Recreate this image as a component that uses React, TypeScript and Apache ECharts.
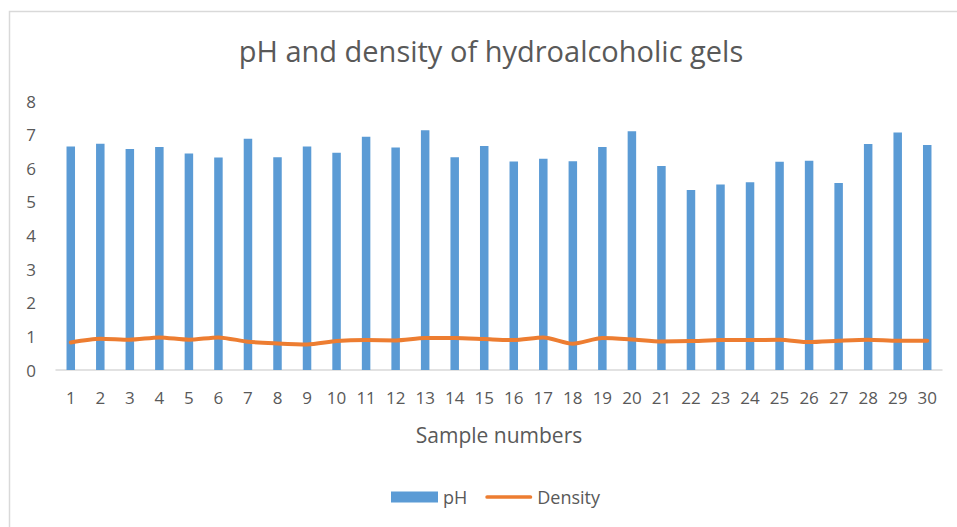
import React, { useEffect, useRef } from "react";
import * as echarts from "echarts";

const categories = [
  "1", "2", "3", "4", "5", "6", "7", "8", "9", "10",
  "11", "12", "13", "14", "15", "16", "17", "18", "19", "20",
  "21", "22", "23", "24", "25", "26", "27", "28", "29", "30",
];
const phValues = [
  6.65, 6.73, 6.57, 6.63, 6.44, 6.32, 6.88, 6.33, 6.65, 6.46,
  6.94, 6.62, 7.13, 6.33, 6.66, 6.2, 6.28, 6.21, 6.63, 7.1,
  6.07, 5.35, 5.52, 5.58, 6.19, 6.22, 5.56, 6.72, 7.06, 6.69,
];
const densityValues = [
  0.82, 0.93, 0.9, 0.97, 0.9, 0.97, 0.84, 0.79, 0.76, 0.86,
  0.89, 0.88, 0.95, 0.95, 0.92, 0.89, 0.97, 0.78, 0.95, 0.91,
  0.85, 0.86, 0.89, 0.89, 0.9, 0.83, 0.87, 0.9, 0.87, 0.87,
];

const FONT = "Open Sans";
const TEXT = "#595959";

export default function App() {
  const ref = useRef<HTMLDivElement>(null);
  useEffect(() => {
    if (!ref.current) return;
    const chart = echarts.init(ref.current, undefined, { renderer: "svg" });
    chart.setOption({
      animation: false,
      backgroundColor: "#ffffff",
      textStyle: { fontFamily: FONT, color: TEXT },
      title: {
        text: "pH and density of hydroalcoholic gels",
        left: 486,
        textAlign: "center",
        top: 31,
        textStyle: { fontFamily: FONT, fontSize: 29, fontWeight: "normal", color: TEXT },
      },
      graphic: [
        {
          type: "rect",
          silent: true,
          shape: { x: 9.5, y: 11.5, width: 1000, height: 600 },
          style: { fill: "none", stroke: "#d9d9d9", lineWidth: 1.5 },
        },
      ],
      legend: {
        bottom: 16,
        left: 386,
        itemGap: 18,
        itemWidth: 47,
        itemHeight: 11,
        textStyle: { fontFamily: FONT, fontSize: 18, color: TEXT },
        data: [
          { name: "pH", icon: "rect" },
          {
            name: "Density",
            icon: "path://M2,0 H49 A2,2 0 0 1 49,4 H2 A2,2 0 0 1 2,0 Z",
          },
        ],
      },
      grid: { left: 56, right: 15, top: 101, bottom: 157 },
      xAxis: {
        type: "category",
        data: categories,
        name: "Sample numbers",
        nameLocation: "middle",
        nameGap: 54,
        nameTextStyle: { fontFamily: FONT, fontSize: 21, color: TEXT },
        axisLine: { lineStyle: { color: "#d9d9d9", width: 1.5 } },
        axisTick: { show: false },
        axisLabel: { interval: 0, margin: 19, fontFamily: FONT, fontSize: 17, color: TEXT },
      },
      yAxis: {
        type: "value",
        min: 0,
        max: 8,
        interval: 1,
        axisLine: { show: false },
        axisTick: { show: false },
        splitLine: { show: false },
        axisLabel: { margin: 20, fontFamily: FONT, fontSize: 17, color: TEXT },
      },
      series: [
        {
          name: "pH",
          type: "bar",
          data: phValues,
          barWidth: 8.5,
          itemStyle: { color: "#5B9BD5" },
        },
        {
          name: "Density",
          type: "line",
          data: densityValues,
          smooth: 0.25,
          symbol: "none",
          lineStyle: { color: "#ED7D31", width: 4, cap: "round", join: "round" },
          itemStyle: { color: "#ED7D31" },
        },
      ],
    });
    return () => chart.dispose();
  }, []);
  return (
    <div
      ref={ref}
      style={{ position: "fixed", left: 0, top: 0, width: 957, height: 527 }}
    />
  );
}
